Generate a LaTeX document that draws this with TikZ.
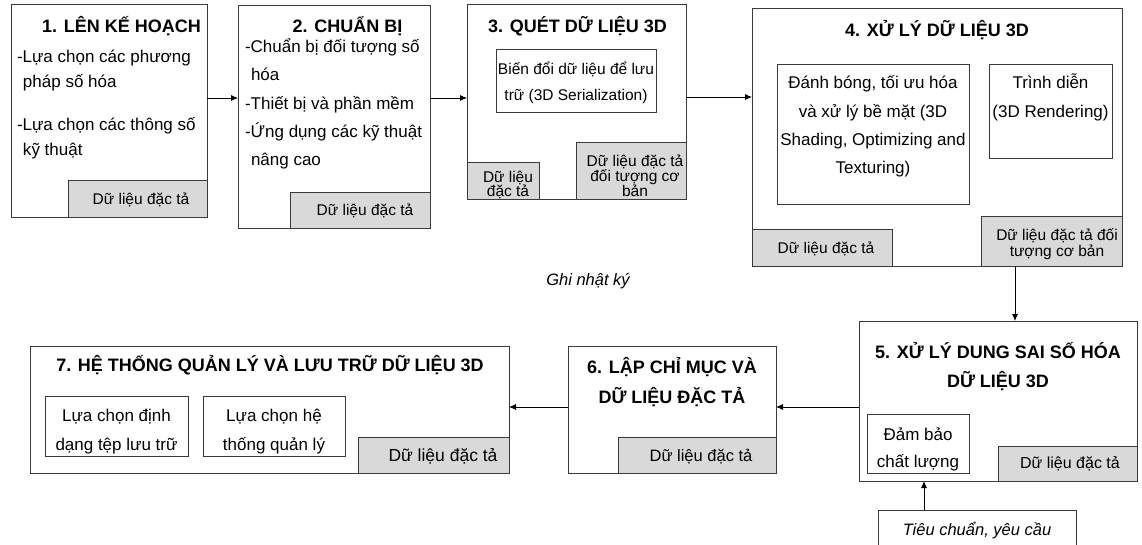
\documentclass[tikz,border=0pt]{standalone}
\usepackage{fontspec}
\setmainfont{Liberation Sans}
\usetikzlibrary{arrows.meta}
\definecolor{ln}{HTML}{3A3A3A}
\definecolor{gr}{HTML}{D9D9D9}
\newcommand{\mkbox}[6]{\node[#6, minimum width={#4-#2}, minimum height={#5-#3}] (#1) at (#2,#3) {};}
\tikzset{
  boxw/.style={draw=ln, line width=0.8pt, fill=white, inner sep=0, outer sep=0, anchor=north west},
  boxg/.style={boxw, fill=gr},
  tx/.style={inner sep=0, outer sep=0, anchor=base, text=black, font=\fontsize{17}{20}\selectfont},
  txl/.style={tx, anchor=base west},
  ttl/.style={inner sep=0, outer sep=0, anchor=base, text=black, font=\bfseries\fontsize{18}{20}\selectfont},
  tsm/.style={tx, font=\fontsize{15.5}{18}\selectfont},
  tit/.style={tx, font=\itshape\fontsize{16.5}{20}\selectfont},
  arr/.style={draw=black, line width=0.8pt, -{Latex[length=7pt,width=6pt]}},
}
\begin{document}
\begin{tikzpicture}[x=1pt,y=-1pt]
\useasboundingbox (0,0) rectangle (1142,544);
\clip (0,0) rectangle (1142,544);
\fill[white] (0,0) rectangle (1142,544);

% Box 1
\mkbox{b1}{11}{4}{207}{217}{boxw}
\mkbox{g1}{68}{180}{207}{217}{boxg}
\node[ttl] (t1) at (121.5,32) {1. LÊN KẾ HOẠCH};
\node[txl] (b1a) at (17,62) {-Lựa chọn các phương};
\node[txl] (b1b) at (23,87) {pháp số hóa};
\node[txl] (b1c) at (17,130) {-Lựa chọn các thông số};
\node[txl] (b1d) at (23,155) {kỹ thuật};
\node[tsm] (g1t) at (141,204) {Dữ liệu đặc tả};

% Box 2
\mkbox{b2}{238}{5}{430}{228}{boxw}
\mkbox{g2}{290}{192}{430}{228}{boxg}
\node[ttl] (t2) at (347.5,32) {2. CHUẨN BỊ};
\node[txl] (b2a) at (245,52) {-Chuẩn bị đối tượng số};
\node[txl] (b2b) at (251,80) {hóa};
\node[txl] (b2c) at (245,109) {-Thiết bị và phần mềm};
\node[txl] (b2d) at (245,137) {-Ứng dụng các kỹ thuật};
\node[txl] (b2e) at (251,165) {nâng cao};
\node[tsm] (g2t) at (365,215) {Dữ liệu đặc tả};

% Box 3
\mkbox{b3}{467}{4}{686}{199}{boxw}
\node[ttl] (t3) at (577.5,32) {3. QUÉT DỮ LIỆU 3D};
\mkbox{i3}{496}{49}{656}{112}{boxw}
\node[tsm] (i3a) at (576,74) {Biến đổi dữ liệu để lưu};
\node[tsm] (i3b) at (576,100) {trữ (3D Serialization)};
\mkbox{g3a}{467}{162}{539}{199}{boxg}
\node[tsm] (g3a1) at (508,182) {Dữ liệu};
\node[tsm] (g3a2) at (508,196.5) {đặc tả};
\mkbox{g3b}{576}{142}{686}{199}{boxg}
\node[tsm] (g3b1) at (635,166) {Dữ liệu đặc tả};
\node[tsm] (g3b2) at (635,181) {đối tượng cơ};
\node[tsm] (g3b3) at (635,196) {bản};

% Box 4
\mkbox{b4}{752}{8}{1122}{266}{boxw}
\node[ttl] (t4) at (937,36) {4. XỬ LÝ DỮ LIỆU 3D};
\mkbox{i4a}{777}{64}{969}{204}{boxw}
\node[tx] (i4a1) at (873,88) {Đánh bóng, tối ưu hóa};
\node[tx] (i4a2) at (873,117) {và xử lý bề mặt (3D};
\node[tx] (i4a3) at (873,145) {Shading, Optimizing and};
\node[tx] (i4a4) at (873,173) {Texturing)};
\mkbox{i4b}{989}{64}{1112}{158}{boxw}
\node[tx] (i4b1) at (1050.5,88) {Trình diễn};
\node[tx] (i4b2) at (1050.5,117) {(3D Rendering)};
\mkbox{g4a}{752}{229}{892}{266}{boxg}
\node[tsm] (g4at) at (826,253) {Dữ liệu đặc tả};
\mkbox{g4b}{981}{216}{1122}{266}{boxg}
\node[tsm] (g4b1) at (1057,240) {Dữ liệu đặc tả đối};
\node[tsm] (g4b2) at (1057,256) {tượng cơ bản};

\node[tit] (log) at (588,285) {Ghi nhật ký};

% Box 5
\mkbox{b5}{859}{321}{1137}{481}{boxw}
\node[ttl] (t5a) at (998,358) {5. XỬ LÝ DUNG SAI SỐ HÓA};
\node[ttl] (t5b) at (998,387) {DỮ LIỆU 3D};
\mkbox{i5}{867}{414}{969}{473}{boxw}
\node[tx] (i5a) at (918,440) {Đảm bảo};
\node[tx] (i5b) at (918,467) {chất lượng};
\mkbox{g5}{998}{446}{1137}{481}{boxg}
\node[tx, font=\fontsize{16}{18}\selectfont] (g5t) at (1070,468) {Dữ liệu đặc tả};

% Box 6
\mkbox{b6}{568}{346}{776}{473}{boxw}
\node[ttl] (t6a) at (672,373) {6. LẬP CHỈ MỤC VÀ};
\node[ttl] (t6b) at (672,403) {DỮ LIỆU ĐẶC TẢ};
\mkbox{g6}{618}{437}{776}{473}{boxg}
\node[tx, font=\fontsize{16.5}{18}\selectfont] (g6t) at (701,461) {Dữ liệu đặc tả};

% Box 7
\mkbox{b7}{30}{346}{509}{473}{boxw}
\node[ttl] (t7) at (270,371) {7. HỆ THỐNG QUẢN LÝ VÀ LƯU TRỮ DỮ LIỆU 3D};
\mkbox{i7a}{45}{396}{188}{456}{boxw}
\node[tx] (i7a1) at (116.5,421) {Lựa chọn định};
\node[tx] (i7a2) at (116.5,450) {dạng tệp lưu trữ};
\mkbox{i7b}{203}{396}{345}{456}{boxw}
\node[tx] (i7b1) at (274,421) {Lựa chọn hệ};
\node[tx] (i7b2) at (274,450) {thống quản lý};
\mkbox{g7}{358}{437}{509}{473}{boxg}
\node[tx, font=\fontsize{17.5}{20}\selectfont] (g7t) at (443,461) {Dữ liệu đặc tả};

% Bottom box
\mkbox{std}{878}{510}{1076}{560}{boxw}
\node[tit] (stdt) at (977,535) {Tiêu chuẩn, yêu cầu};

% Connectors
\coordinate (r1) at (0,98);
\coordinate (r3) at (0,97);
\coordinate (c45) at (1015,0);
\coordinate (r5) at (0,407);
\coordinate (cstd) at (924,0);
\draw[arr] (b1.east |- r1) -- (b2.west |- r1);
\draw[arr] (b2.east |- r1) -- (b3.west |- r1);
\draw[arr] (b3.east |- r3) -- (b4.west |- r3);
\draw[arr] (b4.south -| c45) -- (b5.north -| c45);
\draw[arr] (b5.west |- r5) -- (b6.east |- r5);
\draw[arr] (b6.west |- r5) -- (b7.east |- r5);
\draw[arr] (std.north -| cstd) -- (b5.south -| cstd);
\end{tikzpicture}
\end{document}
